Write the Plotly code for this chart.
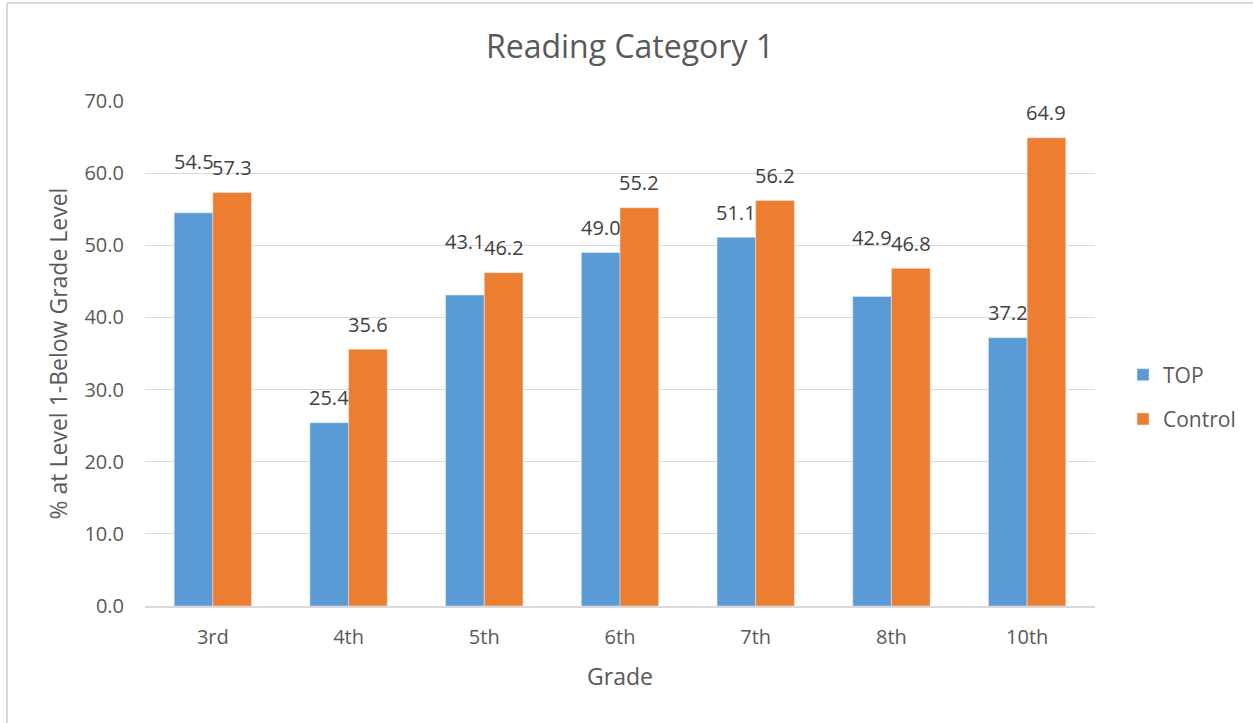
import plotly.graph_objects as go

grades = ["3rd", "4th", "5th", "6th", "7th", "8th", "10th"]
top_vals = [54.5, 25.4, 43.1, 49.0, 51.1, 42.9, 37.2]
control_vals = [57.3, 35.6, 46.2, 55.2, 56.2, 46.8, 64.9]
y_ticks = [0, 10, 20, 30, 40, 50, 60, 70]

FONT = "Open Sans"
TXT = "#595959"
LBL = "#404040"

L, R, T, B = 145, 158, 101, 117
W, H = 1253, 723
pw, ph = W - L - R, H - T - B
YMAX = 70
px_per_unit = ph / YMAX
BARGAP = 0.43
bar_w = pw / len(grades) * (1 - BARGAP) / 2

fig = go.Figure()
fig.add_trace(go.Bar(name="TOP", x=grades, y=top_vals, marker_color="#5B9BD5",
                     legendgroup="a"))
fig.add_trace(go.Bar(name="Control", x=grades, y=control_vals, marker_color="#ED7D31",
                     legendgroup="b"))

# data labels (Excel style: ~25px above the bar, lifted when it would collide)
LABEL_OFF = 25
for g, tv, cv in zip(grades, top_vals, control_vals):
    ts = LABEL_OFF
    if 0 <= cv - tv < 4:
        ts = (cv - tv) * px_per_unit + LABEL_OFF + 6
    fig.add_annotation(x=g, y=tv, xref="x", yref="y", text=f"{tv:.1f}", showarrow=False,
                       xshift=-bar_w / 2, yshift=ts, yanchor="middle",
                       font=dict(size=20, color=LBL, family=FONT))
    fig.add_annotation(x=g, y=cv, xref="x", yref="y", text=f"{cv:.1f}", showarrow=False,
                       xshift=bar_w / 2, yshift=LABEL_OFF, yanchor="middle",
                       font=dict(size=20, color=LBL, family=FONT))

fig.update_layout(
    width=W, height=H,
    margin=dict(l=L, r=R, t=T, b=B, pad=0, autoexpand=False),
    paper_bgcolor="white", plot_bgcolor="white",
    barmode="group", bargap=BARGAP, bargroupgap=0,
    font=dict(family=FONT, color=TXT, size=20),
    title=dict(text="Reading Category 1", x=(630 - L) / pw, xref="paper", xanchor="center",
               y=1 - 47 / H, yanchor="middle", font=dict(size=32, color=TXT, family=FONT)),
    xaxis=dict(title=dict(text="Grade", font=dict(size=23, color=TXT), standoff=20),
               showline=True, linecolor="#d9d9d9", linewidth=1.5, ticks="",
               tickfont=dict(size=20, color=TXT), ticklabelstandoff=12),
    yaxis=dict(title=dict(text="% at Level 1-Below Grade Level", font=dict(size=23, color=TXT), standoff=10),
               range=[0, YMAX], tickvals=y_ticks, ticktext=[f"{v:.1f}" for v in y_ticks],
               showgrid=True, gridcolor="#d9d9d9", gridwidth=1.3, zeroline=False,
               ticks="", tickfont=dict(size=20, color=TXT), ticklabelstandoff=20),
    legend=dict(x=(1123 - L) / pw, xanchor="left", y=(606 - 397) / ph, yanchor="middle",
                font=dict(size=21, color=TXT), tracegroupgap=14, itemwidth=30,
                traceorder="grouped", bgcolor="rgba(0,0,0,0)"),
    showlegend=True,
)

# outer chart border (left and top edges visible in the reference)
fig.add_shape(type="line", xref="paper", yref="paper",
              x0=(7 - L) / pw, x1=(W + 5 - L) / pw, y0=(606 - 3) / ph, y1=(606 - 3) / ph,
              line=dict(color="#d9d9d9", width=2))
fig.add_shape(type="line", xref="paper", yref="paper",
              x0=(7 - L) / pw, x1=(7 - L) / pw, y0=(606 - 3) / ph, y1=(606 - H - 5) / ph,
              line=dict(color="#d9d9d9", width=2))

fig.write_html("out.html", config={"displayModeBar": False},
               post_script="document.body.style.margin='0';")
